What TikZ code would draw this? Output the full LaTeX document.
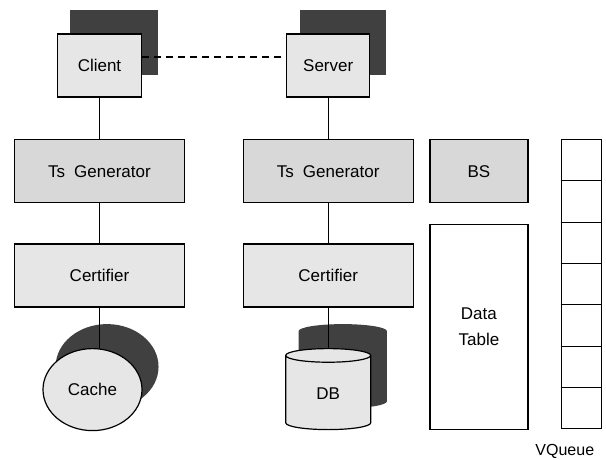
\documentclass[tikz,border=0pt]{standalone}
\usepackage{fontspec}
\setmainfont{Liberation Sans}
\usetikzlibrary{shapes,shapes.geometric,positioning,shadows,calc}
\definecolor{boxgray}{HTML}{E6E6E6}
\definecolor{tsgray}{HTML}{D8D8D8}
\definecolor{darkshade}{HTML}{404040}
\tikzstyle{Block} = [draw, rectangle, line width=1.2pt, fill=boxgray, minimum height=63pt, font=\fontsize{17}{20}\selectfont]
\tikzstyle{Shade} = [general shadow={fill=darkshade, shadow xshift=14pt, shadow yshift=22pt, shadow scale=1.04}]
\tikzstyle{Link} = [line width=1.1pt]

\begin{document}
\begin{tikzpicture}
    \useasboundingbox (0,0) rectangle (606pt,-459pt);
    \node[Block, Shade, minimum width=84pt] (client) at (99.5pt,-65.5pt) {Client};
    \node[Block, fill=tsgray, minimum width=170pt] (tsgen1) [below=41.5pt of client] {Ts\hspace{9pt}Generator};
    \node[Block, minimum width=170pt] (cert1) [below=40pt of tsgen1] {Certifier};
    \node[Block, Shade, ellipse, minimum width=99pt, minimum height=82pt, xshift=-7pt] (cache) [below=40.5pt of cert1] {Cache};
    \node[Block, fill=tsgray, minimum width=170pt] (tsgen2) [right=57.5pt of tsgen1] {Ts\hspace{9pt}Generator};
    \node[Block, Shade, minimum width=83pt] (server) [above=41.5pt of tsgen2] {Server};
    \node[Block, minimum width=170pt] (cert2) [below=40pt of tsgen2] {Certifier};
    \node[Block, Shade, cylinder, shape border rotate=90, aspect=0.45, minimum width=85pt, minimum height=81pt] (db) [below=40.5pt of cert2] {DB};
    \node[Block, fill=tsgray, minimum width=98pt] (bs) [right=15.5pt of tsgen2] {BS};
    \node[Block, fill=white, align=center, minimum width=98pt, minimum height=205pt] (table) [below=20.5pt of bs] {Data\\[6pt]Table};
    \node[Block, fill=white, minimum width=40pt, minimum height=289pt] (vq) [right=32pt of bs.north east, anchor=north west] {};
    \node[font=\fontsize{16}{19}\selectfont] (vqlabel) [below left=11pt and 4pt of vq.south east] {VQueue};
    \foreach \i in {1,...,6}
      \draw[line width=0.9pt] ($(vq.north west)!\i/7!(vq.south west)$) -- ($(vq.north east)!\i/7!(vq.south east)$);
    \draw[Link, dash pattern=on 7pt off 5pt] ([yshift=8.5pt]client.east) to ([yshift=8.5pt]server.west);
    \draw[Link] (client) to (tsgen1);
    \draw[Link] (tsgen1) to (cert1);
    \draw[Link] (cert1.south) to (cert1.south |- cache.north);
    \draw[Link] (server) to (tsgen2);
    \draw[Link] (tsgen2) to (cert2);
    \draw[Link] (cert2) to (db);
  \end{tikzpicture}
\end{document}
